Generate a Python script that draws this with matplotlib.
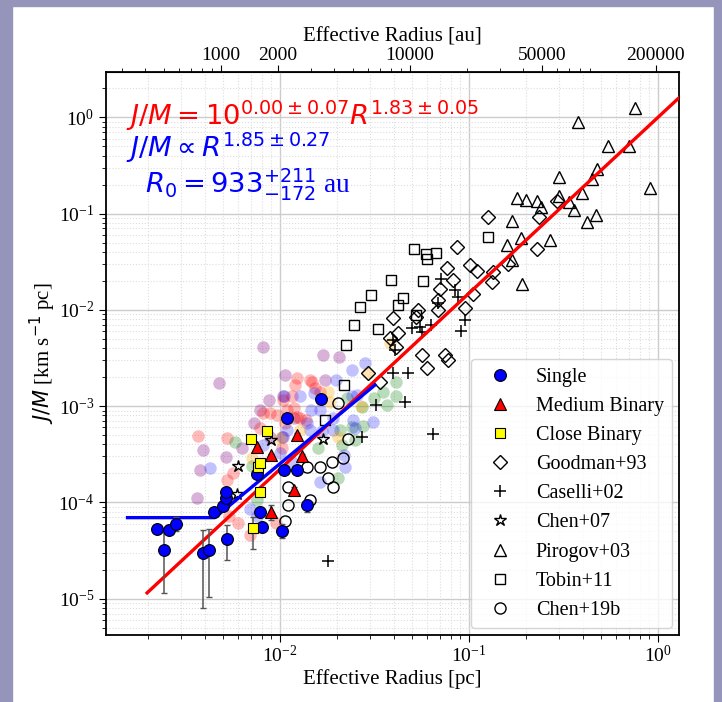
import matplotlib
matplotlib.use("Agg")
import matplotlib.pyplot as plt
from matplotlib.patches import Rectangle
from matplotlib.ticker import NullFormatter

plt.rcParams["font.family"] = "serif"
plt.rcParams["font.serif"] = ["Liberation Serif", "DejaVu Serif"]
plt.rcParams["mathtext.fontset"] = "dejavusans"

PC_TO_AU = 206265.0

# ── background cores (translucent, no legend) ──
bg_purple_r = [0.0081, 0.00477, 0.01067, 0.00878, 0.00784, 0.00729, 0.0039, 0.00518, 0.00627,
               0.0104, 0.0119, 0.01695, 0.0206, 0.00378, 0.00363, 0.00885, 0.01033, 0.0173]
bg_purple_j = [4.15e-3, 1.73e-3, 2.11e-3, 1.16e-3, 9.14e-4, 6.74e-4, 3.51e-4, 2.99e-4, 3.66e-4,
               1.26e-3, 7.49e-4, 3.4e-3, 3.22e-3, 2.18e-4, 1.12e-4, 4.82e-4, 4.82e-4, 1.87e-3]

bg_red_r = [0.01226, 0.0120, 0.01153, 0.01033, 0.01186, 0.00885, 0.00961, 0.00816, 0.0037,
            0.00526, 0.00784, 0.0102, 0.01482, 0.01628, 0.01085, 0.01226, 0.00694, 0.00602,
            0.00539, 0.00949, 0.00566, 0.00522, 0.01441, 0.01532, 0.01373, 0.01276, 0.01063]
bg_red_j = [1.95e-3, 1.66e-3, 1.26e-3, 1.16e-3, 9.51e-4, 8.44e-4, 8.1e-4, 8.44e-4, 4.9e-4,
            4.64e-4, 5.9e-4, 3.66e-4, 1.8e-3, 1.41e-3, 9.14e-4, 7.78e-4, 4.6e-5, 6.08e-5,
            7.3e-5, 6.08e-5, 2.01e-4, 1.71e-4, 1.87e-3, 1.53e-3, 7.19e-4, 7.49e-4, 6.64e-4]

bg_green_r = [0.0039, 0.00578, 0.00708, 0.00753, 0.0227, 0.02705, 0.0352, 0.0411, 0.0411,
              0.0208, 0.0212, 0.02395, 0.01595, 0.02035, 0.0314, 0.0367, 0.0249, 0.0275]
bg_green_j = [2.97e-5, 4.28e-4, 2.39e-4, 1.06e-4, 1.21e-3, 9.88e-4, 1.41e-3, 1.8e-3, 1.26e-3,
              5.66e-4, 3.95e-4, 6.12e-4, 3.66e-4, 1.81e-4, 1.21e-3, 1.03e-3, 4.46e-4, 6.23e-4]

bg_blue_r = [0.01085, 0.00816, 0.0102, 0.00427, 0.00694, 0.00753, 0.01054, 0.01519, 0.01454,
             0.01628, 0.01384, 0.01662, 0.01914, 0.01628, 0.02208, 0.0219, 0.02545, 0.02817,
             0.03094, 0.02443, 0.0100, 0.01153, 0.02395, 0.01977, 0.01276, 0.02395, 0.0249,
             0.01914, 0.01441]
bg_blue_j = [5.66e-4, 3.95e-4, 4.82e-4, 2.27e-4, 8.56e-5, 7.24e-5, 1.26e-3, 1.36e-3, 9.14e-4,
             9.14e-4, 6.64e-4, 5.53e-4, 5.66e-4, 1.64e-4, 2.35e-4, 3.11e-4, 1.31e-3, 2.79e-3,
             6.9e-4, 7.19e-4, 3.24e-4, 2.65e-4, 2.38e-3, 1.87e-3, 1.28e-3, 1.26e-3, 5.9e-4,
             7.49e-4, 5.66e-4]

bg_orange_r = [0.00708, 0.01839, 0.02683, 0.02035, 0.0382, 0.0293, 0.0180, 0.0100, 0.01276]
bg_orange_j = [2.92e-4, 1.11e-3, 1.0e-3, 4.82e-4, 4.5e-3, 2.2e-3, 1.41e-3, 4.72e-4, 5.66e-4]

# ── this work ──
single_r = [0.00223, 0.00243, 0.0026, 0.00281, 0.00389, 0.00422, 0.00522, 0.00448, 0.00498, 0.00515,
            0.00515, 0.00784, 0.00805, 0.0102, 0.0105, 0.0123, 0.0139, 0.0109, 0.0165, 0.00753]
single_j = [5.3e-5, 3.2e-5, 5.2e-5, 6.0e-5, 3.0e-5, 3.2e-5, 4.2e-5, 7.9e-5, 9.1e-5, 1.1e-4,
            1.28e-4, 7.9e-5, 5.6e-5, 5.1e-5, 2.15e-4, 2.15e-4, 9.4e-5, 7.5e-4, 1.2e-3, 1.98e-4]
single_jlo = [4.8e-5, 1.15e-5, 4.7e-5, 5.1e-5, 8.0e-6, 1.04e-5, 2.5e-5, 7.2e-5, 8.3e-5, 1.0e-4,
              1.17e-4, 7.0e-5, 4.9e-5, 4.3e-5, 1.95e-4, 1.95e-4, 8.0e-5, 6.8e-4, 1.1e-3, 1.8e-4]
single_jhi = [5.8e-5, 5.2e-5, 5.8e-5, 7.0e-5, 5.2e-5, 5.3e-5, 5.8e-5, 8.7e-5, 1.0e-4, 1.2e-4,
              1.4e-4, 8.9e-5, 6.3e-5, 5.9e-5, 2.35e-4, 2.35e-4, 1.05e-4, 8.2e-4, 1.3e-3, 2.2e-4]

medium_r = [0.00758, 0.00896, 0.0123, 0.0131, 0.0118, 0.00893]
medium_j = [3.74e-4, 3.11e-4, 5.02e-4, 3.04e-4, 1.33e-4, 8.0e-5]
medium_jlo = [3.6e-4, 3.0e-4, 4.8e-4, 2.9e-4, 1.2e-4, 6.6e-5]
medium_jhi = [3.9e-4, 3.2e-4, 5.2e-4, 3.2e-4, 1.45e-4, 9.4e-5]

close_r = [0.00702, 0.0085, 0.00762, 0.00784, 0.00717, 0.00784]
close_j = [4.56e-4, 5.57e-4, 2.32e-4, 1.29e-4, 5.4e-5, 2.55e-4]
close_jlo = [4.4e-4, 5.4e-4, 2.2e-4, 1.2e-4, 3.3e-5, 2.45e-4]
close_jhi = [4.7e-4, 5.7e-4, 2.45e-4, 1.4e-4, 7.0e-5, 2.65e-4]

# ── literature ──
goodman_r = [0.1265, 0.233, 0.291, 0.0867, 0.228, 0.0762, 0.1012, 0.1107, 0.1345, 0.1318, 0.1615,
             0.082, 0.0703, 0.0688, 0.1046, 0.0952, 0.0683, 0.0539, 0.0524, 0.0398, 0.0423,
             0.0382, 0.0409, 0.0562, 0.0747, 0.0777, 0.0597, 0.0293, 0.0338]
goodman_j = [0.0929, 0.0929, 0.135, 0.0447, 0.0426, 0.027, 0.0292, 0.0254, 0.0249, 0.0196, 0.030,
             0.0204, 0.0164, 0.0127, 0.0145, 0.0104, 9.97e-3, 9.97e-3, 8.5e-3, 8.18e-3, 5.8e-3,
             5.07e-3, 4.09e-3, 3.4e-3, 3.36e-3, 3.02e-3, 2.48e-3, 2.2e-3, 1.8e-3]

caselli_r = [0.0711, 0.0843, 0.0877, 0.0688, 0.0952, 0.0904, 0.0627, 0.0551, 0.0498, 0.0562,
             0.0395, 0.0406, 0.0395, 0.0477, 0.0459, 0.0322, 0.0271, 0.0647, 0.01788]
caselli_j = [0.0209, 0.0161, 0.0135, 0.0119, 7.85e-3, 6.08e-3, 6.97e-3, 6.7e-3, 6.53e-3, 5.94e-3,
             4.87e-3, 3.83e-3, 2.2e-3, 2.2e-3, 1.11e-3, 1.03e-3, 4.82e-4, 5.11e-4, 2.49e-5]

chen07_r = [0.00896, 0.00598, 0.0059, 0.0169]
chen07_j = [4.46e-4, 2.39e-4, 1.22e-4, 4.51e-4]

pirogov_r = [0.755, 0.378, 0.546, 0.705, 0.477, 0.299, 0.449, 0.907, 0.397, 0.179, 0.1995, 0.228,
             0.299, 0.240, 0.339, 0.359, 0.470, 0.420, 0.1695, 0.268, 0.188, 0.159, 0.168, 0.190]
pirogov_j = [1.24, 0.887, 0.504, 0.504, 0.288, 0.242, 0.227, 0.183, 0.1625, 0.146, 0.138, 0.136,
             0.152, 0.118, 0.133, 0.109, 0.0967, 0.0824, 0.0844, 0.0532, 0.0554, 0.0472, 0.033,
             0.0186]

tobin_r = [0.1256, 0.0512, 0.0592, 0.0669, 0.0601, 0.0385, 0.0569, 0.0446, 0.0423, 0.0524,
           0.0303, 0.0265, 0.0247, 0.0331, 0.0223, 0.0219, 0.01737]
tobin_j = [0.0568, 0.0426, 0.038, 0.0393, 0.0335, 0.0204, 0.020, 0.0132, 0.01124, 8.85e-3,
           0.0143, 0.0108, 6.97e-3, 6.29e-3, 4.27e-3, 1.66e-3, 7.1e-4]

chen19_r = [0.01106, 0.01442, 0.01063, 0.01384, 0.01628, 0.01873, 0.02141, 0.01788, 0.01914,
            0.02035, 0.02284, 0.01106]
chen19_j = [1.46e-4, 1.06e-4, 6.47e-5, 2.35e-4, 2.35e-4, 2.65e-4, 2.88e-4, 1.8e-4, 1.45e-4,
            1.09e-3, 4.51e-4, 9.42e-5]

# ── fits ──
fit_red_r = [0.00198, 1.4]
fit_red_j = [1.15e-5, 1.85]
fit_blue_r = [0.00156, 0.00452, 0.0318]
fit_blue_j = [6.95e-5, 6.95e-5, 1.66e-3]

fig = plt.figure(figsize=(7.22, 7.02), dpi=100, facecolor="white")
# purple frame around the screenshot
frame_col = "#9595bb"
for rect in [(0, 0, 12 / 722, 1), (714 / 722, 0, 8 / 722, 1), (0, 1 - 6 / 702, 1, 6 / 702)]:
    fig.patches.append(Rectangle(rect[:2], rect[2], rect[3], transform=fig.transFigure,
                                 color=frame_col, zorder=0))

ax = fig.add_axes([106 / 722, 1 - 635 / 702, 573 / 722, 563 / 702])
ax.set_xscale("log")
ax.set_yscale("log")
ax.set_xlim(0.0012, 1.29)
ax.set_ylim(4.2e-6, 2.95)

bg_ms = 9
for r, j, c, a in [(bg_purple_r, bg_purple_j, "purple", 0.3),
                   (bg_red_r, bg_red_j, "red", 0.27),
                   (bg_green_r, bg_green_j, "green", 0.27),
                   (bg_blue_r, bg_blue_j, "blue", 0.24),
                   (bg_orange_r, bg_orange_j, "orange", 0.3)]:
    ax.plot(r, j, "o", ms=bg_ms, color=c, alpha=a, mec="none", zorder=1)

open_kw = dict(ls="none", mfc="none", mec="black", mew=1.0, zorder=2)
h_good, = ax.plot(goodman_r, goodman_j, "D", ms=7, label="Goodman+93", **open_kw)
h_cas, = ax.plot(caselli_r, caselli_j, "+", ms=8, color="black", ls="none", mew=1.1,
                 label="Caselli+02", zorder=2)
h_c07, = ax.plot(chen07_r, chen07_j, "*", ms=9, label="Chen+07", **open_kw)
h_pir, = ax.plot(pirogov_r, pirogov_j, "^", ms=8, label="Pirogov+03", **open_kw)
h_tob, = ax.plot(tobin_r, tobin_j, "s", ms=7.5, label="Tobin+11", **open_kw)
h_c19, = ax.plot(chen19_r, chen19_j, "o", ms=8, label="Chen+19b", **open_kw)

ax.plot(fit_red_r, fit_red_j, color="red", lw=2.4, zorder=3)
ax.plot(fit_blue_r, fit_blue_j, color="blue", lw=2.4, zorder=3)

err_kw = dict(fmt="none", ecolor="#555555", elinewidth=1.1, capsize=2.5, capthick=1.0, zorder=3.5)
for r, j, lo, hi in [(single_r, single_j, single_jlo, single_jhi),
                     (medium_r, medium_j, medium_jlo, medium_jhi),
                     (close_r, close_j, close_jlo, close_jhi)]:
    yerr = [[a - b for a, b in zip(j, lo)], [b - a for a, b in zip(j, hi)]]
    ax.errorbar(r, j, yerr=yerr, **err_kw)

fill_kw = dict(ls="none", mec="black", mew=0.8, zorder=4)
h_single, = ax.plot(single_r, single_j, "o", ms=8.5, mfc="blue", label="Single", **fill_kw)
h_med, = ax.plot(medium_r, medium_j, "^", ms=8.5, mfc="red", label="Medium Binary", **fill_kw)
h_close, = ax.plot(close_r, close_j, "s", ms=7.5, mfc="yellow", label="Close Binary", **fill_kw)

ax.grid(True, which="major", color="#cccccc", lw=1.0, zorder=0)
ax.grid(True, which="minor", color="#dddddd", lw=0.8, ls=":", zorder=0)
ax.set_axisbelow(True)
ax.tick_params(which="both", labelsize=14, top=False, right=False)
ax.tick_params(axis="x", which="both", pad=2)
ax.tick_params(which="major", length=5)
ax.tick_params(which="minor", length=3)
for sp in ax.spines.values():
    sp.set_linewidth(1.3)

ax.set_xlabel("Effective Radius [pc]", fontsize=15, labelpad=2)
ax.set_ylabel(r"$J/M$ [km s$^{-1}$ pc]", fontsize=15, labelpad=0)

secax = ax.secondary_xaxis("top", functions=(lambda r: r * PC_TO_AU, lambda a: a / PC_TO_AU))
secax.set_xticks([1000, 2000, 10000, 50000, 200000],
                 labels=["1000", "2000", "10000", "50000", "200000"])
secax.xaxis.set_minor_formatter(NullFormatter())
secax.tick_params(which="both", labelsize=14, pad=1)
secax.tick_params(which="major", length=5)
secax.tick_params(which="minor", length=3)
secax.set_xlabel("Effective Radius [au]", fontsize=15, labelpad=4)

ax.text(0.035, 0.905, r"$J/M = 10^{0.00\pm0.07}R^{1.83\pm0.05}$", color="red",
        fontsize=19.7, transform=ax.transAxes, va="baseline")
ax.text(0.035, 0.849, r"$J/M \propto R^{1.85\pm0.27}$", color="blue",
        fontsize=19.7, transform=ax.transAxes, va="baseline")
ax.text(0.068, 0.786, r"$R_0 = 933^{+211}_{-172}$ au", color="blue",
        fontsize=19.7, transform=ax.transAxes, va="baseline")

handles = [h_single, h_med, h_close, h_good, h_cas, h_c07, h_pir, h_tob, h_c19]
ax.legend(handles=handles, loc="lower right", fontsize=14.5, borderaxespad=0.35,
          labelspacing=0.5, framealpha=0.8)

fig.savefig("out.png", dpi=100)
